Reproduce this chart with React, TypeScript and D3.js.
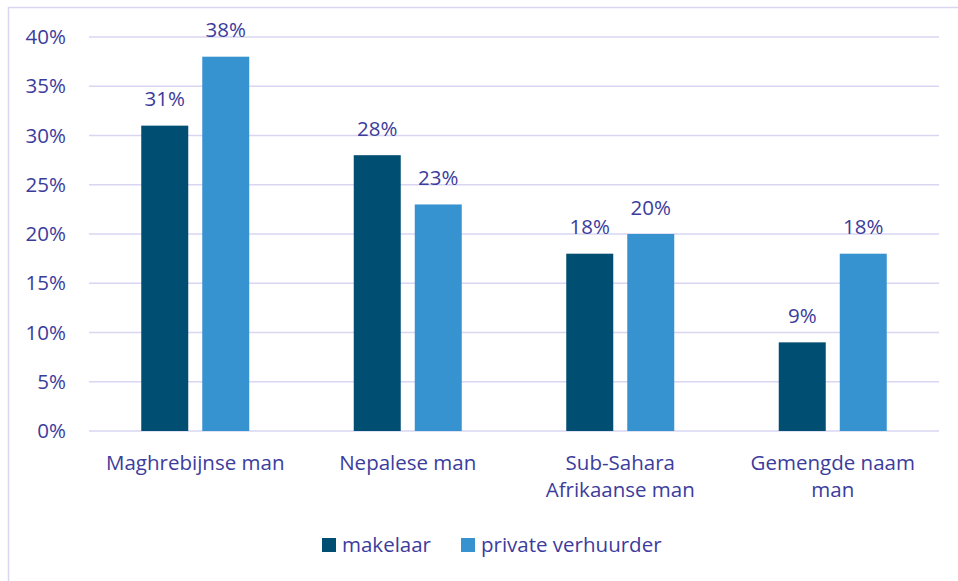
import * as d3 from "d3";
import { useEffect, useRef } from "react";

const categories = [
  ["Maghrebijnse man"],
  ["Nepalese man"],
  ["Sub-Sahara", "Afrikaanse man"],
  ["Gemengde naam", "man"],
];
const seriesNames = ["makelaar", "private verhuurder"];
const makelaar = [31, 28, 18, 9];
const privateVerhuurder = [38, 23, 20, 18];
const yTicks = [0, 5, 10, 15, 20, 25, 30, 35, 40];

const colors = ["#004E72", "#3793D0"];
const textColor = "#3C3C9C";
const gridColor = "#D9D6F2";
const font = "'Open Sans', sans-serif";
const fontSize = "20.5px";

const App = () => {
  const ref = useRef<SVGSVGElement>(null);

  useEffect(() => {
    const svg = d3.select(ref.current);
    svg.selectAll("*").remove();

    const left = 89;
    const right = 939;
    const top = 37;
    const bottom = 431;

    // frame
    svg
      .append("rect")
      .attr("x", 8.5)
      .attr("y", 7.5)
      .attr("width", 970)
      .attr("height", 600)
      .attr("fill", "white")
      .attr("stroke", gridColor)
      .attr("stroke-width", 1.5);

    const x = d3
      .scaleBand<number>()
      .domain(d3.range(categories.length))
      .range([left, right]);
    const y = d3.scaleLinear().domain([0, 40]).range([bottom, top]);

    const g = svg.append("g");

    g.selectAll("line.grid")
      .data(yTicks)
      .enter()
      .append("line")
      .attr("x1", left)
      .attr("x2", right)
      .attr("y1", (d) => y(d))
      .attr("y2", (d) => y(d))
      .attr("stroke", gridColor)
      .attr("stroke-width", 1.5);

    g.selectAll("text.ytick")
      .data(yTicks)
      .enter()
      .append("text")
      .attr("x", 66)
      .attr("y", (d) => y(d) + 7)
      .attr("text-anchor", "end")
      .attr("fill", textColor)
      .style("font-family", font)
      .style("font-size", fontSize)
      .text((d) => d + "%");

    const series = [makelaar, privateVerhuurder];
    const barW = 47;
    const gap = 14;
    const inner = d3
      .scaleBand<number>()
      .domain([0, 1])
      .range([0, barW * 2 + gap])
      .paddingInner(gap / (barW + gap));

    series.forEach((vals, si) => {
      const offset = x.bandwidth() / 2 - (barW * 2 + gap) / 2;
      g.selectAll("rect.s" + si)
        .data(vals)
        .enter()
        .append("rect")
        .attr("x", (_, i) => (x(i) as number) + offset + (inner(si) as number))
        .attr("y", (d) => y(d))
        .attr("width", inner.bandwidth())
        .attr("height", (d) => bottom - y(d))
        .attr("fill", colors[si]);

      g.selectAll("text.v" + si)
        .data(vals)
        .enter()
        .append("text")
        .attr(
          "x",
          (_, i) =>
            (x(i) as number) + offset + (inner(si) as number) + inner.bandwidth() / 2
        )
        .attr("y", (d) => y(d) - 19.5)
        .attr("text-anchor", "middle")
        .attr("fill", textColor)
        .style("font-family", font)
        .style("font-size", fontSize)
        .text((d) => d + "%");
    });

    categories.forEach((lines, i) => {
      const cx = (x(i) as number) + x.bandwidth() / 2;
      const t = g
        .append("text")
        .attr("x", cx)
        .attr("y", 470)
        .attr("text-anchor", "middle")
        .attr("fill", textColor)
        .style("font-family", font)
        .style("font-size", fontSize);
      lines.forEach((l, li) => {
        t.append("tspan")
          .attr("x", cx)
          .attr("dy", li === 0 ? 0 : 27)
          .text(l);
      });
    });

    // legend
    const legendX = [322, 461];
    seriesNames.forEach((name, i) => {
      g.append("rect")
        .attr("x", legendX[i])
        .attr("y", 538)
        .attr("width", 14)
        .attr("height", 14)
        .attr("fill", colors[i]);
      g.append("text")
        .attr("x", legendX[i] + 20)
        .attr("y", 552)
        .attr("fill", textColor)
        .style("font-family", font)
        .style("font-size", fontSize)
        .text(name);
    });
  }, []);

  return (
    <svg
      ref={ref}
      width={958}
      height={581}
      style={{ position: "absolute", left: 0, top: 0, background: "white" }}
    />
  );
};

export default App;
